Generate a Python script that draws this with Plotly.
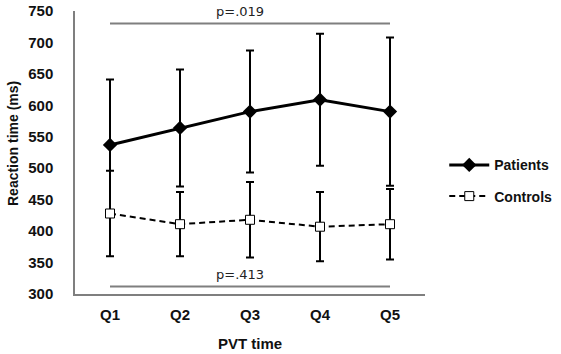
import plotly.graph_objects as go

categories = ["Q1", "Q2", "Q3", "Q4", "Q5"]
patients = [537, 564, 590, 609, 590]
patients_err = [104, 93, 97, 105, 118]
controls = [428, 411, 418, 407, 411]
controls_err = [68, 51, 60, 55, 56]
y_ticks = [300, 350, 400, 450, 500, 550, 600, 650, 700, 750]
p_labels = ["p=.019", "p=.413"]
p_line_y = [730, 312]
p_text_y = [749, 331]

fig = go.Figure()
fig.add_trace(go.Scatter(
    x=categories, y=patients, name="Patients", mode="lines+markers",
    line=dict(color="black", width=3),
    marker=dict(symbol="diamond", size=11, color="black"),
    error_y=dict(type="data", array=patients_err, color="black", thickness=2, width=4),
    legendgroup="a",
))
fig.add_trace(go.Scatter(
    x=categories, y=controls, name="Controls", mode="lines+markers",
    line=dict(color="black", width=2, dash="6px,4px"),
    marker=dict(symbol="square", size=9, color="white", line=dict(color="black", width=1)),
    error_y=dict(type="data", array=controls_err, color="black", thickness=2, width=4),
    legendgroup="b",
))

for ly, ty, lab in zip(p_line_y, p_text_y, p_labels):
    fig.add_shape(type="line", xref="x", yref="y", x0=categories[0], x1=categories[-1],
                  y0=ly, y1=ly, line=dict(color="#7f7f7f", width=2))
    fig.add_annotation(x=1.85, y=ty, xref="x", yref="y", text=lab, showarrow=False,
                       font=dict(family="DejaVu Sans", size=13, color="#222"))

fig.add_annotation(x=0, y=0.53, xref="paper", yref="paper", xshift=-62, text="Reaction time (ms)",
                   textangle=-90, showarrow=False, xanchor="center", yanchor="middle",
                   font=dict(family="Liberation Sans", size=14, color="#111", weight="bold"))
fig.add_annotation(x=0.5, y=0, xref="paper", yref="paper", yshift=-49, text="PVT time",
                   showarrow=False, xanchor="center", yanchor="middle",
                   font=dict(family="Liberation Sans", size=15, color="#111", weight="bold"))

fig.update_layout(
    width=561, height=354,
    margin=dict(l=75, r=136, t=11, b=60, autoexpand=False),
    paper_bgcolor="white", plot_bgcolor="white",
    showlegend=True,
    legend=dict(x=1.055, y=0.40, xanchor="left", yanchor="middle", itemwidth=40,
                font=dict(family="Liberation Sans", size=14, color="#111", weight="bold"),
                tracegroupgap=10, bgcolor="rgba(0,0,0,0)"),
    font=dict(family="Liberation Sans", color="#111"),
)
fig.update_xaxes(
    type="category", range=[-0.5, 4.5], showline=True, linecolor="#7f7f7f", linewidth=1.5,
    showgrid=False, ticks="", automargin=False, ticklabelstandoff=6,
    tickfont=dict(size=15, family="Liberation Sans", weight="bold"),
)
fig.update_yaxes(
    range=[300, 750], tickvals=y_ticks, showline=True, linecolor="#7f7f7f", linewidth=1.5,
    showgrid=False, ticks="", automargin=False, zeroline=False, ticklabelstandoff=17,
    tickfont=dict(size=15, family="Liberation Sans", weight="bold"),
)

fig.write_html("out.html", config={"displayModeBar": False},
               post_script="document.body.style.margin='0';")
